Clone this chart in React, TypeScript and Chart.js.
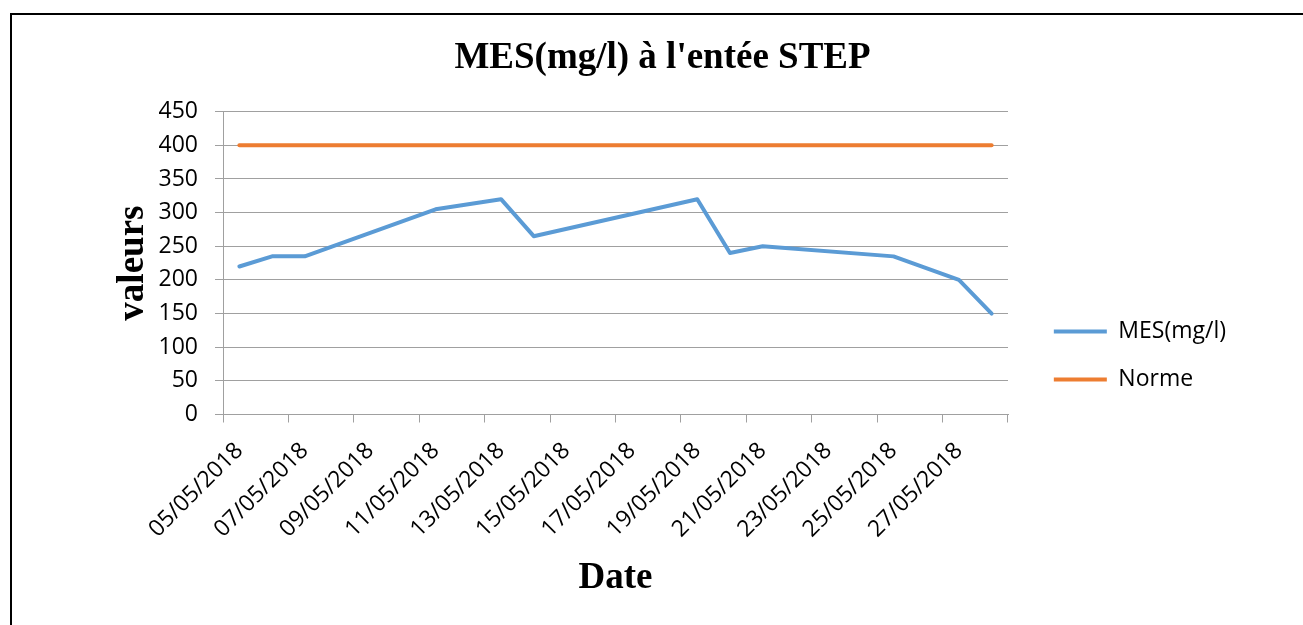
import React, { useEffect, useRef } from 'react';
import { Chart, registerables } from 'chart.js';

Chart.register(...registerables);

// Every day of the date axis (one category per day)
const axisDays = [
  '05/05/2018', '06/05/2018', '07/05/2018', '08/05/2018', '09/05/2018', '10/05/2018',
  '11/05/2018', '12/05/2018', '13/05/2018', '14/05/2018', '15/05/2018', '16/05/2018',
  '17/05/2018', '18/05/2018', '19/05/2018', '20/05/2018', '21/05/2018', '22/05/2018',
  '23/05/2018', '24/05/2018', '25/05/2018', '26/05/2018', '27/05/2018', '28/05/2018',
];

// Sampling dates and values
const measureDates = [
  '05/05/2018', '06/05/2018', '07/05/2018', '11/05/2018', '13/05/2018', '14/05/2018',
  '19/05/2018', '20/05/2018', '21/05/2018', '25/05/2018', '27/05/2018', '28/05/2018',
];
const mesValues = [220, 235, 235, 305, 320, 265, 320, 240, 250, 235, 200, 150];
const normeValues = [400, 400, 400, 400, 400, 400, 400, 400, 400, 400, 400, 400];

const seriesNames = ['MES(mg/l)', 'Norme'];
const seriesColors = ['#5B9BD5', '#ED7D31'];

const yMin = 0;
const yMax = 450;
const yStep = 50;

const chartTitle = "MES(mg/l) à l'entée STEP";
const xTitle = 'Date';
const yTitle = 'valeurs';

const CANVAS_TOP = 15;
const CANVAS_H = 681;
const LEGEND_FONT = 23;
const LEGEND_BOX = 53;
const LEGEND_PAD = 25;

export default function App() {
  const ref = useRef<HTMLCanvasElement | null>(null);

  useEffect(() => {
    const canvas = ref.current;
    if (!canvas) return;
    const gray = '#a0a0a0';
    const serif = '"Liberation Serif", "Times New Roman", serif';
    const sans = '"Open Sans", sans-serif';

    // Work out the legend width so the plot area / title land where the reference has them
    const mctx = document.createElement('canvas').getContext('2d')!;
    mctx.font = `${LEGEND_FONT}px ${sans}`;
    const textW = Math.max(...seriesNames.map((n) => mctx.measureText(n).width));
    const legendW = LEGEND_PAD + LEGEND_BOX + LEGEND_FONT / 2 + textW + 10;
    const plotLeft = 223;
    const plotRight = 1008;
    const gapW = 20;
    const titleCenter = 662;
    const canvasRight = plotRight + gapW + legendW;
    const x0 = Math.round(2 * titleCenter - canvasRight);
    const canvasW = Math.ceil(canvasRight - x0);
    const yAxisW = plotLeft - x0;
    const extraRight = canvasW - (canvasRight - x0);

    canvas.width = canvasW;
    canvas.height = CANVAS_H;
    canvas.style.left = x0 + 'px';
    canvas.style.width = canvasW + 'px';
    canvas.style.height = CANVAS_H + 'px';

    const plotBottom = 414.5 - CANVAS_TOP;

    const chart = new Chart(canvas, {
      type: 'line',
      data: {
        labels: axisDays,
        datasets: [
          {
            label: seriesNames[0],
            data: measureDates.map((d, i) => ({ x: d, y: mesValues[i] })),
            borderColor: seriesColors[0],
            backgroundColor: seriesColors[0],
            borderWidth: 4,
            pointRadius: 0,
            pointHoverRadius: 0,
            tension: 0,
            borderJoinStyle: 'round',
            borderCapStyle: 'round',
            xAxisID: 'x',
            yAxisID: 'y',
          },
          {
            label: seriesNames[1],
            data: measureDates.map((d, i) => ({ x: d, y: normeValues[i] })),
            borderColor: seriesColors[1],
            backgroundColor: seriesColors[1],
            borderWidth: 4,
            pointRadius: 0,
            pointHoverRadius: 0,
            tension: 0,
            borderJoinStyle: 'round',
            borderCapStyle: 'round',
            xAxisID: 'x',
            yAxisID: 'y',
          },
        ],
      },
      options: {
        responsive: false,
        animation: false,
        devicePixelRatio: 1,
        events: [],
        layout: { padding: { left: 0, top: 0, bottom: 0, right: 0 } },
        plugins: {
          title: {
            display: true,
            text: chartTitle,
            color: '#000',
            font: { family: serif, size: 37, weight: 'bold' },
            padding: { top: 21.5, bottom: 30.8 },
          },
          legend: {
            display: true,
            position: 'right',
            align: 'center',
            maxWidth: 2000,
            labels: {
              boxWidth: LEGEND_BOX,
              boxHeight: 4,
              padding: LEGEND_PAD,
              color: '#000',
              font: { family: sans, size: LEGEND_FONT },
              generateLabels: (ch: any) =>
                (Chart.defaults.plugins.legend.labels as any)
                  .generateLabels(ch)
                  .map((l: any) => ({ ...l, lineWidth: 0, fillStyle: l.strokeStyle })),
            },
          },
          tooltip: { enabled: false },
        },
        scales: {
          x: {
            type: 'category',
            position: 'bottom',
            offset: true,
            afterFit: (s: any) => {
              s.height = CANVAS_H - plotBottom;
            },
            grid: {
              offset: true,
              drawOnChartArea: false,
              drawTicks: true,
              tickLength: 8,
              color: (ctx: any) =>
                ctx.index === undefined || ctx.index % 2 === 0 ? gray : 'rgba(0,0,0,0)',
            },
            border: { display: true, color: gray, width: 1 },
            ticks: {
              autoSkip: false,
              minRotation: 45,
              maxRotation: 45,
              padding: 14.7,
              labelOffset: 0,
              color: '#000',
              font: { family: sans, size: 23 },
              callback: (_v: any, index: number) => (index % 2 === 0 ? axisDays[index] : ''),
            },
            title: {
              display: true,
              text: xTitle,
              color: '#000',
              font: { family: serif, size: 37, weight: 'bold' },
              padding: { top: 0, bottom: 95.1 },
            },
          },
          y: {
            type: 'linear',
            position: 'left',
            min: yMin,
            max: yMax,
            afterFit: (s: any) => {
              s.width = yAxisW;
            },
            grid: {
              color: gray,
              lineWidth: 1,
              drawTicks: true,
              tickLength: 8,
            },
            border: { display: true, color: gray, width: 1 },
            ticks: {
              stepSize: yStep,
              padding: 17,
              color: '#000',
              font: { family: sans, size: 23 },
            },
            title: {
              display: true,
              text: yTitle,
              color: '#000',
              font: { family: serif, size: 37, weight: 'bold' },
              padding: { top: 133.5 - x0 - 22.2, bottom: 0 },
            },
          },
          gap: {
            type: 'linear',
            position: 'right',
            display: true,
            afterFit: (s: any) => {
              s.width = gapW + extraRight;
            },
            grid: { display: false, drawTicks: false },
            border: { display: false },
            ticks: { display: false },
            title: { display: false },
          },
        },
      } as any,
    });

    return () => chart.destroy();
  }, []);

  return (
    <div
      style={{
        position: 'fixed',
        left: 0,
        top: 0,
        width: 1303,
        height: 625,
        overflow: 'hidden',
        background: '#fff',
      }}
    >
      <div
        style={{
          position: 'absolute',
          left: 10,
          top: 13,
          width: 1400,
          height: 700,
          border: '2px solid #000',
          boxSizing: 'border-box',
        }}
      />
      <canvas
        ref={ref}
        style={{
          position: 'absolute',
          left: 100,
          top: CANVAS_TOP,
        }}
      />
    </div>
  );
}
